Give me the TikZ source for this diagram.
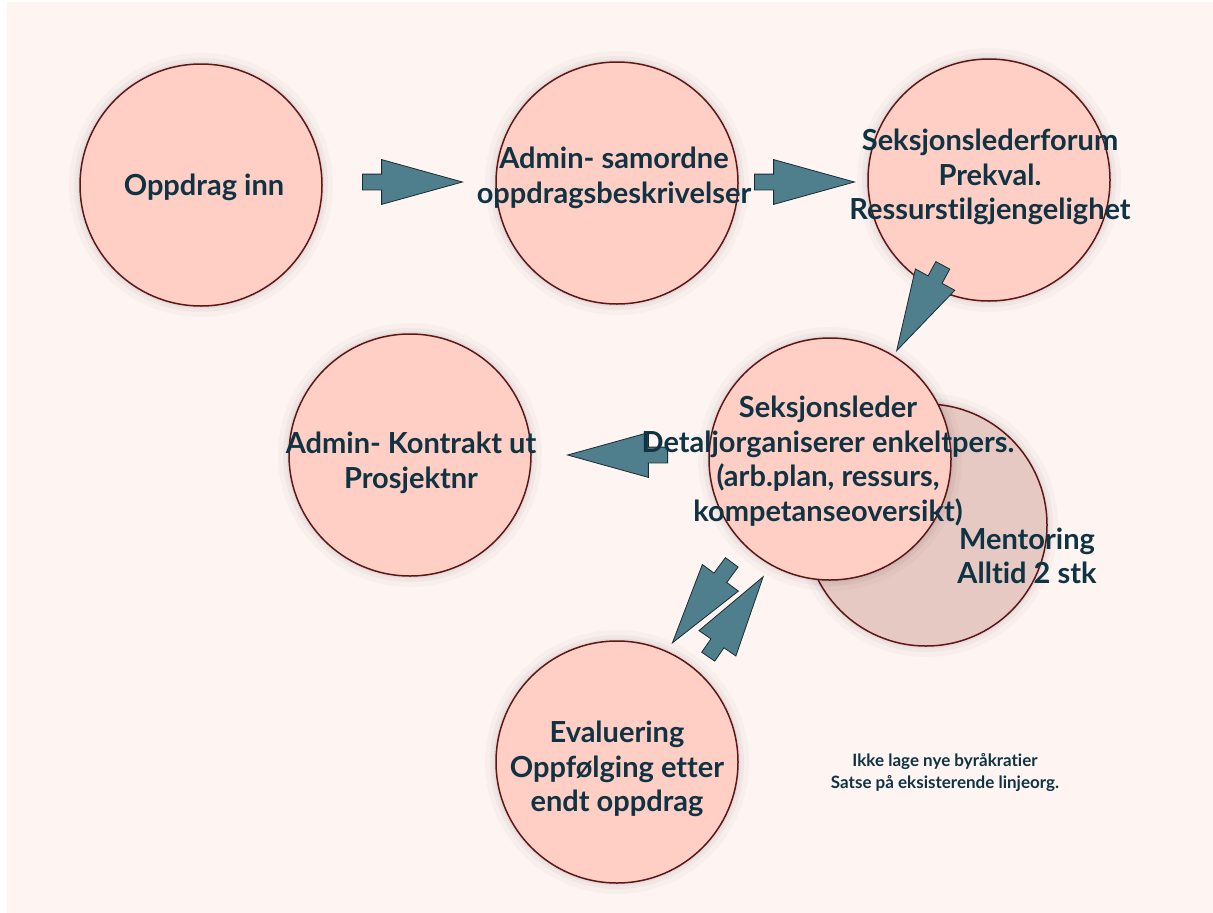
\documentclass[tikz,border=0pt]{standalone}
\usepackage{fontspec}
\setmainfont{Lato}[Ligatures={NoCommon,NoRare,NoDiscretionary}]
\usetikzlibrary{shapes.arrows}
\definecolor{bgpink}{HTML}{FEF4F1}
\definecolor{circfill}{HTML}{FFCEC5}
\definecolor{circline}{HTML}{5E1616}
\definecolor{mentorfill}{HTML}{E6C9C2}
\definecolor{arrowfill}{HTML}{4F7E8D}
\definecolor{arrowline}{HTML}{1B2B31}
\definecolor{textblue}{HTML}{0F3343}
\begin{document}
\begin{tikzpicture}[x=1pt,y=-1pt,
  stepcircle/.style={circle, draw=circline, line width=1.5pt, fill=circfill, minimum size=242pt, inner sep=0pt,
    preaction={draw=black, opacity=0.025, line width=22pt},
    preaction={draw=black, opacity=0.03, line width=12pt},
    preaction={draw=black, opacity=0.04, line width=5pt}},
  mentorcircle/.style={stepcircle, fill=mentorfill},
  blockarrow/.style={single arrow, draw=arrowline, line width=0.8pt, fill=arrowfill, inner xsep=0pt, inner ysep=7.5pt,
    single arrow head extend=14.5pt, single arrow tip angle=31, minimum height=100pt, anchor=tail},
  steptext/.style={font=\fontsize{29}{34.5}\selectfont\bfseries, text=textblue, align=center, inner sep=0pt},
  notetext/.style={font=\fontsize{17}{22}\selectfont\bfseries, text=textblue, align=center, inner sep=0pt}]
\useasboundingbox (0,0) rectangle (1213,913);
	\fill[bgpink] (7,2) rectangle (1213,913);

	\node[stepcircle] (inn) at (201,185) {};
	\node[stepcircle] (samordne) at (617,183) {};
	\node[stepcircle] (forum) at (989,180) {};
	\node[stepcircle] (kontrakt) at (410,455) {};
	\node[mentorcircle] (mentor) at (926,525) {};
	\node[stepcircle] (leder) at (830,459) {};
	\node[stepcircle] (evaluering) at (617,762) {};

	\node[blockarrow] (inn-samordne) at (362,182) {};
	\node[blockarrow] (samordne-forum) at (754,182) {};
	\node[blockarrow, rotate=241.6, minimum height=97pt] (forum-leder) at (943,265) {};
	\node[blockarrow, rotate=180] (leder-kontrakt) at (668,455) {};
	\node[blockarrow, rotate=233.6] (leder-evaluering) at (732,562) {};
	\node[blockarrow, rotate=55.5, minimum height=97pt] (evaluering-leder) at (708,657) {};

	\node[steptext] (inn-txt) at (204,187) {Oppdrag inn};
	\node[steptext] (samordne-txt) at (614,178) {Admin- samordne\\oppdragsbeskrivelser};
	\node[steptext] (forum-txt) at (990,177) {Seksjonslederforum\\Prekval.\\Ressurstilgjengelighet};
	\node[steptext] (leder-txt) at (828,461) {Seksjonsleder\\Detaljorganiserer enkeltpers.\\(arb.plan, ressurs,\\kompetanseoversikt)};
	\node[steptext] (kontrakt-txt) at (411,463) {Admin- Kontrakt ut\\Prosjektnr};
	\node[steptext] (evaluering-txt) at (617,769) {Evaluering\\Oppfølging etter\\endt oppdrag};
	\node[steptext] (mentor-txt) at (1027,556) {Mentoring\\Alltid 2 stk};
	\node[notetext] (note) at (945,773) {Ikke lage nye byråkratier\\Satse på eksisterende linjeorg.};
\end{tikzpicture}
\end{document}
